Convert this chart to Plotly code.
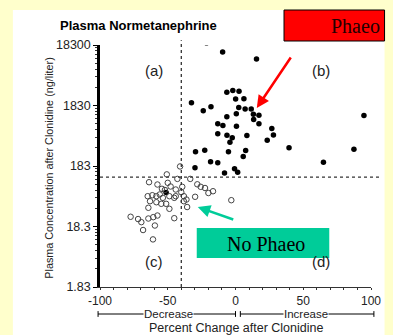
import plotly.graph_objects as go

# Phaeo (filled) : percent change after clonidine, plasma concentration (ng/liter)
phaeo_x = [-21.4, -9.5, 15.5, -32.5, -23.8, -18.1, -6.4, -2.0, 2.6, 0.1, 6.2, 2.4,
           7.1, 11.6, -6.4, 0.6, 13.2, 17.3, 13.4, 17.3, -13.1, -9.3, 0.7, -13.1,
           -6.3, -2.4, -4.1, 8.4, 26.8, 28.0, 23.4, 94.8, 39.5, 87.4, -29.5, -22.7,
           -5.2, 7.5, 5.7, -18.4, -13.1, -29.9, -8.1, -0.7, 1.6, 64.9, -51.2]
phaeo_y = [19900, 14000, 10700, 2030, 1500, 1740, 3040, 3240, 3150, 2340, 2360, 1700,
           1600, 1600, 1190, 1335, 1310, 1260, 1075, 913, 913, 855, 832, 623,
           589, 535, 452, 584, 763, 595, 488, 1250, 366, 346, 315, 334,
           314, 330, 263, 216, 207, 171, 140, 165, 144, 211, 66.7]

# No Phaeo (open)
nophaeo_x = [-50.7, -42.9, -40.9, -33.4, -63.8, -57.6, -50.0, -54.3, -44.1, -39.3,
             -28.2, -25.7, -22.5, -20.0, -16.6, -64.8, -61.4, -58.4, -55.9, -53.6,
             -48.8, -44.1, -40.0, -38.1, -63.1, -58.4, -54.8, -51.2, -45.2, -38.1,
             -36.2, -29.8, -48.8, -35.7, -64.3, -77.4, -71.9, -69.5, -64.3, -60.7,
             -57.6, -59.5, -68.2, -45.2, -60.9, -3.1, -52.1, -47.9]
nophaeo_y = [133, 112, 180, 112, 98.8, 90.5, 96.5, 76.8, 74.8, 82.9,
             91.2, 82.9, 79.2, 65.5, 70.1, 58.0, 60.2, 58.0, 61.9, 54.5,
             58.0, 58.0, 67.5, 58.0, 47.9, 46.1, 43.4, 43.4, 54.5, 47.9,
             51.1, 56.7, 35.9, 38.4, 37.3, 26.5, 24.3, 21.6, 24.8, 26.1,
             27.8, 19.0, 16.0, 25.1, 11.2, 49.8, 73.4, 83.9]

y_ticks = [1.83, 18.3, 183, 1830, 18300]
y_ticktext = ["1.83", "18.3", "183", "1830", "18300"]
x_ticks = [-100, -50, 0, 50, 100]
cut_x = -40
cut_y = 120

SANS = "Liberation Sans, Arial, sans-serif"
SERIF = "Liberation Serif, Times New Roman, serif"

y_minor = []
for base in [1.83, 18.3, 183, 1830]:
    for k in range(2, 10):
        y_minor.append(base * k)

fig = go.Figure()
fig.add_trace(go.Scatter(x=phaeo_x, y=phaeo_y, mode="markers",
                         marker=dict(symbol="circle", size=5.5, color="black"),
                         showlegend=False, hoverinfo="skip"))
fig.add_trace(go.Scatter(x=nophaeo_x, y=nophaeo_y, mode="markers",
                         marker=dict(symbol="circle-open", size=5.5, color="#444",
                                     line=dict(width=1)),
                         showlegend=False, hoverinfo="skip"))

shapes = [
    # white panel
    dict(type="rect", xref="paper", yref="paper", x0=-0.3214, x1=1.05, y0=-0.2, y1=1.1446,
         fillcolor="white", line=dict(width=0), layer="below"),
    # dashed cut-off lines
    dict(type="line", xref="x", yref="paper", x0=cut_x, x1=cut_x, y0=0, y1=1.02,
         line=dict(color="#333", width=1.3, dash="dot")),
    dict(type="line", xref="paper", yref="y", x0=0, x1=1.04, y0=cut_y, y1=cut_y,
         line=dict(color="#333", width=1.3, dash="dot")),
    # red box
    dict(type="rect", xref="paper", yref="paper", x0=0.679, x1=1.05, y0=1.0165, y1=1.1446,
         fillcolor="#FF0000", line=dict(color="black", width=1)),
    # green box
    dict(type="rect", xref="paper", yref="paper", x0=0.357, x1=0.846, y0=0.1198, y1=0.2438,
         fillcolor="#00CC99", line=dict(width=0)),
]

# Decrease / Increase brackets
yb = (287 - 314) / 242.0
cap = 0.012
def px(p):
    return (p - 100) / 280.0
for a, b in [(98, 240), (245, 383)]:
    shapes.append(dict(type="line", xref="paper", yref="paper", x0=px(a), x1=px(b), y0=yb, y1=yb,
                       line=dict(color="black", width=1)))
    for c in (a, b):
        shapes.append(dict(type="line", xref="paper", yref="paper", x0=px(c), x1=px(c),
                           y0=yb - cap, y1=yb + cap, line=dict(color="black", width=1)))

annotations = [
    dict(text="<b>Plasma Normetanephrine</b>", xref="paper", yref="paper", x=-0.1536, y=1.0826,
         xanchor="left", yanchor="middle", showarrow=False, font=dict(family=SANS, size=13, color="black")),
    dict(text="Plasma Concentration after Clonidine (ng/liter)", xref="paper", yref="paper",
         x=-0.189, y=0.492, textangle=-90, showarrow=False, xanchor="center", yanchor="middle",
         font=dict(family=SANS, size=10.8, color="#222")),
    dict(text="Percent Change after Clonidine", xref="paper", yref="paper", x=0.5, y=(287 - 328) / 242.0,
         showarrow=False, xanchor="center", yanchor="middle", font=dict(family=SANS, size=12.5, color="#222")),
    dict(text="Decrease", xref="paper", yref="paper", x=px(171), y=yb, showarrow=False,
         xanchor="center", yanchor="middle", bgcolor="white", borderpad=0,
         font=dict(family=SANS, size=11.5, color="#222")),
    dict(text="Increase", xref="paper", yref="paper", x=px(313), y=yb, showarrow=False,
         xanchor="center", yanchor="middle", bgcolor="white", borderpad=0,
         font=dict(family=SANS, size=11.5, color="#222")),
    dict(text="(a)", xref="paper", yref="paper", x=0.157, y=0.938, showarrow=False,
         font=dict(family=SANS, size=15, color="#222")),
    dict(text="(b)", xref="paper", yref="paper", x=0.857, y=0.938, showarrow=False,
         font=dict(family=SANS, size=15, color="#222")),
    dict(text="(c)", xref="paper", yref="paper", x=0.157, y=0.062, showarrow=False,
         font=dict(family=SANS, size=15, color="#222")),
    dict(text="(d)", xref="paper", yref="paper", x=0.857, y=0.062, showarrow=False,
         font=dict(family=SANS, size=15, color="#222")),
    dict(text="Phaeo", xref="paper", yref="paper", x=px(364), y=(287 - 26) / 242.0, showarrow=False,
         xanchor="center", yanchor="middle", font=dict(family=SERIF, size=20, color="#220000")),
    dict(text="No Phaeo", xref="paper", yref="paper", x=px(272), y=(287 - 244) / 242.0, showarrow=False,
         xanchor="center", yanchor="middle", font=dict(family=SERIF, size=20, color="black")),
    # arrows
    dict(text="", xref="paper", yref="paper", x=px(262), y=(287 - 108) / 242.0,
         ax=35, ay=-52, axref="pixel", ayref="pixel", showarrow=True,
         arrowhead=2, arrowsize=1, arrowwidth=2.5, arrowcolor="#FF0000"),
    dict(text="", xref="paper", yref="paper", x=px(201), y=(287 - 207) / 242.0,
         ax=37, ay=13, axref="pixel", ayref="pixel", showarrow=True,
         arrowhead=2, arrowsize=1, arrowwidth=2.5, arrowcolor="#00CC99"),
]

fig.update_layout(
    width=393, height=335,
    margin=dict(l=100, r=13, t=45, b=48),
    paper_bgcolor="#FFFFCC", plot_bgcolor="white",
    shapes=shapes, annotations=annotations,
    font=dict(family=SANS, color="#222"),
    xaxis=dict(range=[-100, 100], tickvals=x_ticks, ticktext=[str(v) for v in x_ticks],
               showgrid=False, zeroline=False, showline=True, linecolor="#333", linewidth=1.2,
               ticks="outside", ticklen=2, tickcolor="#333",
               minor=dict(tickvals=list(range(-90, 100, 10)), ticks="outside", ticklen=2, tickcolor="#333"),
               tickfont=dict(family=SANS, size=12, color="#222")),
    yaxis=dict(type="log", range=[0.2625, 4.2625], tickvals=y_ticks, ticktext=y_ticktext,
               showgrid=False, zeroline=False, showline=True, linecolor="black", linewidth=2.5,
               ticks="outside", ticklen=4, tickcolor="black",
               minor=dict(tickvals=y_minor, ticks="outside", ticklen=2, tickcolor="#333"),
               tickfont=dict(family=SANS, size=12.5, color="#222")),
)

fig.write_html("out.html")
